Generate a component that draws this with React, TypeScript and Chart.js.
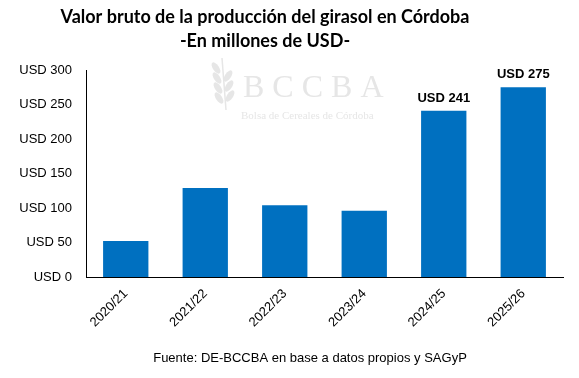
import React, { useEffect, useRef } from "react";
import { Chart, registerables } from "chart.js";

Chart.register(...registerables);

const titleLines = ["Valor bruto de la producción del girasol en Córdoba", "-En millones de USD-"];
const footerText = "Fuente: DE-BCCBA en base a datos propios y SAGyP";
const categories = ["2020/21", "2021/22", "2022/23", "2023/24", "2024/25", "2025/26"];
const values = [52, 129, 104, 96, 241, 275];
const barLabels = ["", "", "", "", "USD 241", "USD 275"];
const yMin = 0;
const yMax = 300;
const yStep = 50;
const tickPrefix = "USD ";
const watermarkBig = "B C C B A";
const watermarkSmall = "Bolsa de Cereales de Córdoba";

const BAR_COLOR = "#0070C0";

const decorPlugin = {
  id: "decor",
  beforeDatasetsDraw(chart: any) {
    const ctx = chart.ctx;
    ctx.save();
    // watermark
    ctx.fillStyle = "#e6e6e6";
    ctx.strokeStyle = "#e6e6e6";
    ctx.textAlign = "left";
    ctx.textBaseline = "alphabetic";
    ctx.font = "32px 'Liberation Serif', serif";
    ctx.fillText(watermarkBig, 243, 97);
    ctx.font = "11px 'Liberation Serif', serif";
    ctx.fillText(watermarkSmall, 241, 119);
    // leaf icon
    ctx.lineWidth = 1.5;
    ctx.beginPath();
    ctx.moveTo(226, 110);
    ctx.lineTo(222, 58);
    ctx.stroke();
    const leaves = [
      [216, 68], [217, 78], [218, 88], [219, 98], [228, 76], [229, 86], [230, 96],
    ];
    leaves.forEach(([x, y], i) => {
      ctx.beginPath();
      ctx.ellipse(x, y, 3, 6.5, i < 4 ? -0.6 : 0.6, 0, Math.PI * 2);
      ctx.fill();
    });
    ctx.restore();
  },
  afterDraw(chart: any) {
    const ctx = chart.ctx;
    ctx.save();
    ctx.fillStyle = "#000";
    ctx.textAlign = "center";
    ctx.textBaseline = "middle";
    ctx.font = "bold 18px Lato, 'Liberation Sans', sans-serif";
    ctx.fillText(titleLines[0], 265, 17);
    ctx.fillText(titleLines[1], 265, 41);
    ctx.font = "13px 'Liberation Sans', Arial, sans-serif";
    ctx.fillText(footerText, 310, 358);
    // bar value labels
    const meta = chart.getDatasetMeta(0);
    ctx.font = "bold 13px 'Liberation Sans', Arial, sans-serif";
    ctx.textBaseline = "alphabetic";
    meta.data.forEach((bar: any, i: number) => {
      const txt = barLabels[i];
      if (txt) ctx.fillText(txt, bar.x, bar.y - 9);
    });
    ctx.restore();
  },
};

export default function App() {
  const ref = useRef<HTMLCanvasElement>(null);
  useEffect(() => {
    document.body.style.margin = "0";
    const chart = new Chart(ref.current!, {
      type: "bar",
      data: {
        labels: categories,
        datasets: [
          {
            data: values,
            backgroundColor: BAR_COLOR,
            categoryPercentage: 1,
            barPercentage: 0.57,
          },
        ],
      },
      options: {
        animation: false,
        responsive: false,
        layout: { padding: { top: 70, right: 16, left: 0, bottom: 0 } },
        plugins: { legend: { display: false }, title: { display: false }, tooltip: { enabled: false } },
        scales: {
          x: {
            grid: { display: false, drawTicks: false },
            border: { display: true, color: "#000", width: 1 },
            ticks: {
              color: "#000",
              font: { family: "'Liberation Sans', Arial, sans-serif", size: 13 },
              minRotation: 45,
              maxRotation: 45,
              padding: 9,
            },
            afterFit(scale: any) {
              scale.height = 101;
            },
          },
          y: {
            min: yMin,
            max: yMax,
            grid: { display: false, drawTicks: false },
            border: { display: true, color: "#000", width: 1 },
            ticks: {
              stepSize: yStep,
              color: "#000",
              padding: 14,
              font: { family: "'Liberation Sans', Arial, sans-serif", size: 13 },
              callback: (v: any) => tickPrefix + v,
            },
            afterFit(scale: any) {
              scale.width = 86;
            },
          },
        },
      },
      plugins: [decorPlugin],
    });
    return () => chart.destroy();
  }, []);
  return (
    <div style={{ position: "absolute", left: 0, top: 0, width: 579, height: 378, background: "#fff" }}>
      <canvas ref={ref} width={579} height={378} />
    </div>
  );
}
